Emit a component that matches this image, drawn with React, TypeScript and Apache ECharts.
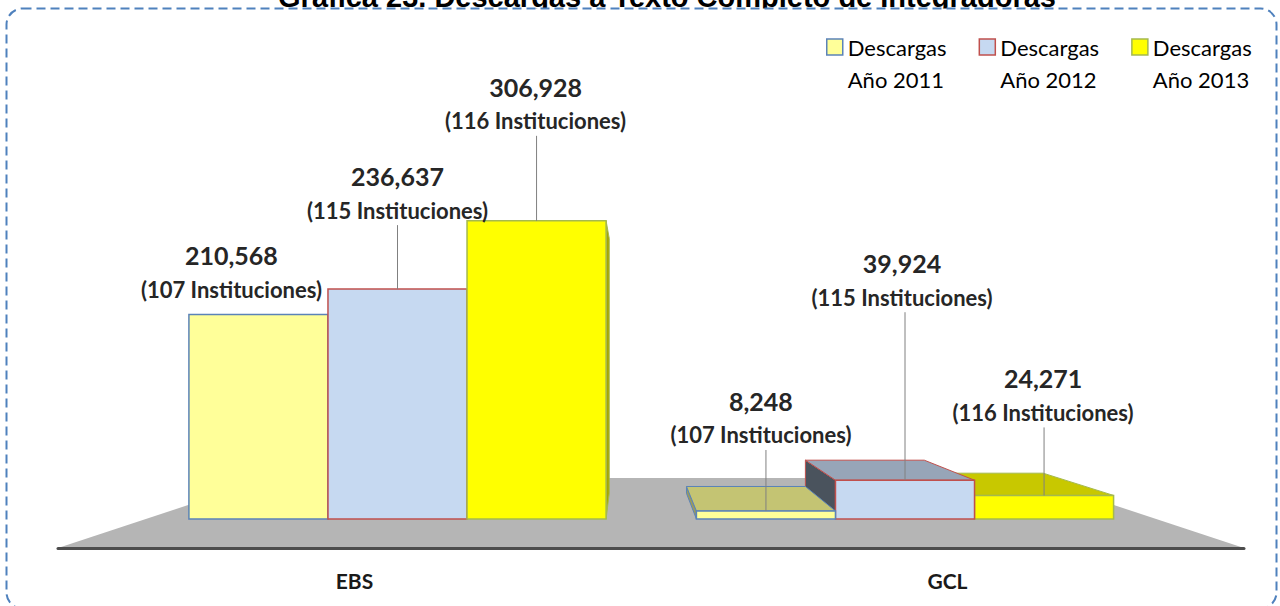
import React, { useEffect, useRef } from "react";
import * as echarts from "echarts";

// ---------- data ----------
const TITLE = "Gráfica 23. Descargas a Texto Completo de Integradoras";
const CATEGORIES = ["EBS", "GCL"];
const SERIES_NAMES = ["Descargas\nAño 2011", "Descargas\nAño 2012", "Descargas\nAño 2013"];
const DOWNLOADS_2011 = [210568, 8248];
const DOWNLOADS_2012 = [236637, 39924];
const DOWNLOADS_2013 = [306928, 24271];
const INSTITUTIONS_2011 = [107, 107];
const INSTITUTIONS_2012 = [115, 115];
const INSTITUTIONS_2013 = [116, 116];

// ---------- layout / style constants ----------
const DOWNLOADS = [DOWNLOADS_2011, DOWNLOADS_2012, DOWNLOADS_2013];
const INSTITUTIONS = [INSTITUTIONS_2011, INSTITUTIONS_2012, INSTITUTIONS_2013];
// label centre offsets from the bar's top-centre: [series][category]
const LABEL_OFFSETS = [
  [[-27, -59], [-5, -110]],
  [[0, -113], [-3, -217]],
  [[-1, -134], [-1, -117]],
];
const STYLES = [
  { front: "#FFFF99", border: "#5B83B8", top: "#C4C473", side: "#9C9C5A" },
  { front: "#C6D9F1", border: "#C0504D", top: "#97A5B8", side: "#4A535D" },
  { front: "#FFFF00", border: "#A5B94E", top: "#C8C800", side: "#A6A600" },
];
const VPX = 628;
const VPY = 342;
const DEPTH = 0.855;
const BAR_RATIO = 0.274;
const FONT = "Lato";
const LEGEND_ICON = "path://M0,0L16,0L16,16L0,16Z M0,48";

function project(x: number, y: number) {
  return [VPX + (x - VPX) * DEPTH, VPY + (y - VPY) * DEPTH];
}

function renderItem(params: any, api: any) {
  const s = params.seriesIndex;
  const i = params.dataIndex;
  const cat = api.value(0);
  const val = api.value(1);
  const [cx, topY] = api.coord([cat, val]);
  const baseY = api.coord([cat, 0])[1];
  const band = api.size([1, 0])[0];
  const w = band * BAR_RATIO;
  const x0 = cx + (s - 1.5) * w;
  const x1 = x0 + w;
  const mid = (x0 + x1) / 2;
  const dist = Math.abs(mid - VPX);
  const base = Math.round((2000 - dist) * 10);
  const st = STYLES[s];
  const children: any[] = [];

  const sideX = mid < VPX ? x1 : x0;
  const [bxs, bys] = project(sideX, topY);
  const byb = project(sideX, baseY)[1];
  children.push({
    type: "polygon",
    z2: base,
    shape: { points: [[sideX, topY], [bxs, bys], [bxs, byb], [sideX, baseY]] },
    style: { fill: st.side, stroke: st.border, lineWidth: 1 },
  });
  if (topY > VPY) {
    const [ax, ay] = project(x0, topY);
    const [bx, by] = project(x1, topY);
    children.push({
      type: "polygon",
      z2: base + 1,
      shape: { points: [[x0, topY], [x1, topY], [bx, by], [ax, ay]] },
      style: { fill: st.top, stroke: st.border, lineWidth: 1 },
    });
  }
  children.push({
    type: "rect",
    z2: base + 2,
    shape: { x: x0, y: topY, width: w, height: baseY - topY },
    style: { fill: st.front, stroke: st.border, lineWidth: 1.5 },
  });

  const [dx, dy] = LABEL_OFFSETS[s][i];
  const lx = mid + dx;
  const ly = topY + dy;
  const subY = ly + 34;
  children.push({
    type: "text",
    z2: 100000,
    style: {
      text: Number(val).toLocaleString("en-US"),
      x: lx,
      y: ly,
      align: "center",
      verticalAlign: "middle",
      fill: "#262626",
      fontSize: 25,
      fontWeight: "bold",
      fontFamily: FONT,
    },
  });
  children.push({
    type: "text",
    z2: 100000,
    style: {
      text: "(" + INSTITUTIONS[s][i] + " Instituciones)",
      x: lx,
      y: subY,
      align: "center",
      verticalAlign: "middle",
      fill: "#262626",
      fontSize: 22,
      fontWeight: "bold",
      fontFamily: FONT,
    },
  });
  if (subY + 15 < topY - 20) {
    children.push({
      type: "line",
      z2: 99999,
      shape: { x1: mid, y1: subY + 15, x2: mid, y2: topY },
      style: { stroke: "#808080", lineWidth: 1 },
    });
  }
  return { type: "group", children };
}

export default function App() {
  const ref = useRef<HTMLDivElement>(null);
  useEffect(() => {
    if (!ref.current) return;
    const chart = echarts.init(ref.current, undefined, { renderer: "svg" });
    chart.setOption({
      animation: false,
      backgroundColor: "#ffffff",
      graphic: [
        {
          type: "text",
          z: -3,
          x: 667,
          y: -3,
          style: {
            text: TITLE,
            align: "center",
            verticalAlign: "middle",
            fill: "#000000",
            fontSize: 29,
            fontWeight: "bold",
            fontFamily: "Liberation Sans",
          },
        },
        {
          type: "rect",
          z: -2,
          shape: { x: 6.5, y: 8.5, width: 1270, height: 600, r: 16 },
          style: { fill: "#ffffff", stroke: "#4F81BD", lineWidth: 2, lineDash: [9, 5] },
        },
        {
          type: "polygon",
          z: -1,
          shape: { points: [[58, 548], [1244, 548], [1032, 478], [270, 478]] },
          style: { fill: "#B5B5B5" },
        },
      ],
      legend: {
        left: 821,
        top: 26,
        itemWidth: 16,
        itemHeight: 48,
        itemGap: 32,
        selectedMode: false,
        data: SERIES_NAMES.map((n, k) => ({
          name: n,
          icon: LEGEND_ICON,
          itemStyle: { color: STYLES[k].front, borderColor: STYLES[k].border, borderWidth: 1.5 },
        })),
        textStyle: { fontFamily: FONT, fontSize: 22, color: "#000000", lineHeight: 32 },
      },
      grid: [
        { left: 143.75, right: 121.25, top: 179, bottom: 87 },
        { left: 58, right: 36, top: 400, bottom: 58 },
      ],
      xAxis: [
        { type: "category", gridIndex: 0, data: CATEGORIES, show: false },
        {
          type: "category",
          gridIndex: 1,
          data: CATEGORIES,
          axisTick: { show: false },
          axisLine: { lineStyle: { color: "#4d4d4d", width: 3 } },
          axisLabel: { fontFamily: FONT, fontWeight: "bold", fontSize: 21, color: "#1a1a1a", margin: 22 },
        },
      ],
      yAxis: [
        { type: "value", gridIndex: 0, min: 0, max: 350000, show: false },
        { type: "value", gridIndex: 1, min: 0, max: 1, show: false },
      ],
      series: SERIES_NAMES.map((n, k) => ({
        type: "custom",
        name: n,
        xAxisIndex: 0,
        yAxisIndex: 0,
        clip: false,
        itemStyle: { color: STYLES[k].front, borderColor: STYLES[k].border },
        encode: { x: 0, y: 1 },
        data: DOWNLOADS[k].map((v, c) => [c, v]),
        renderItem,
      })),
    });
    return () => chart.dispose();
  }, []);
  return (
    <div
      ref={ref}
      style={{ position: "absolute", left: 0, top: 0, width: 1280, height: 606 }}
    />
  );
}
